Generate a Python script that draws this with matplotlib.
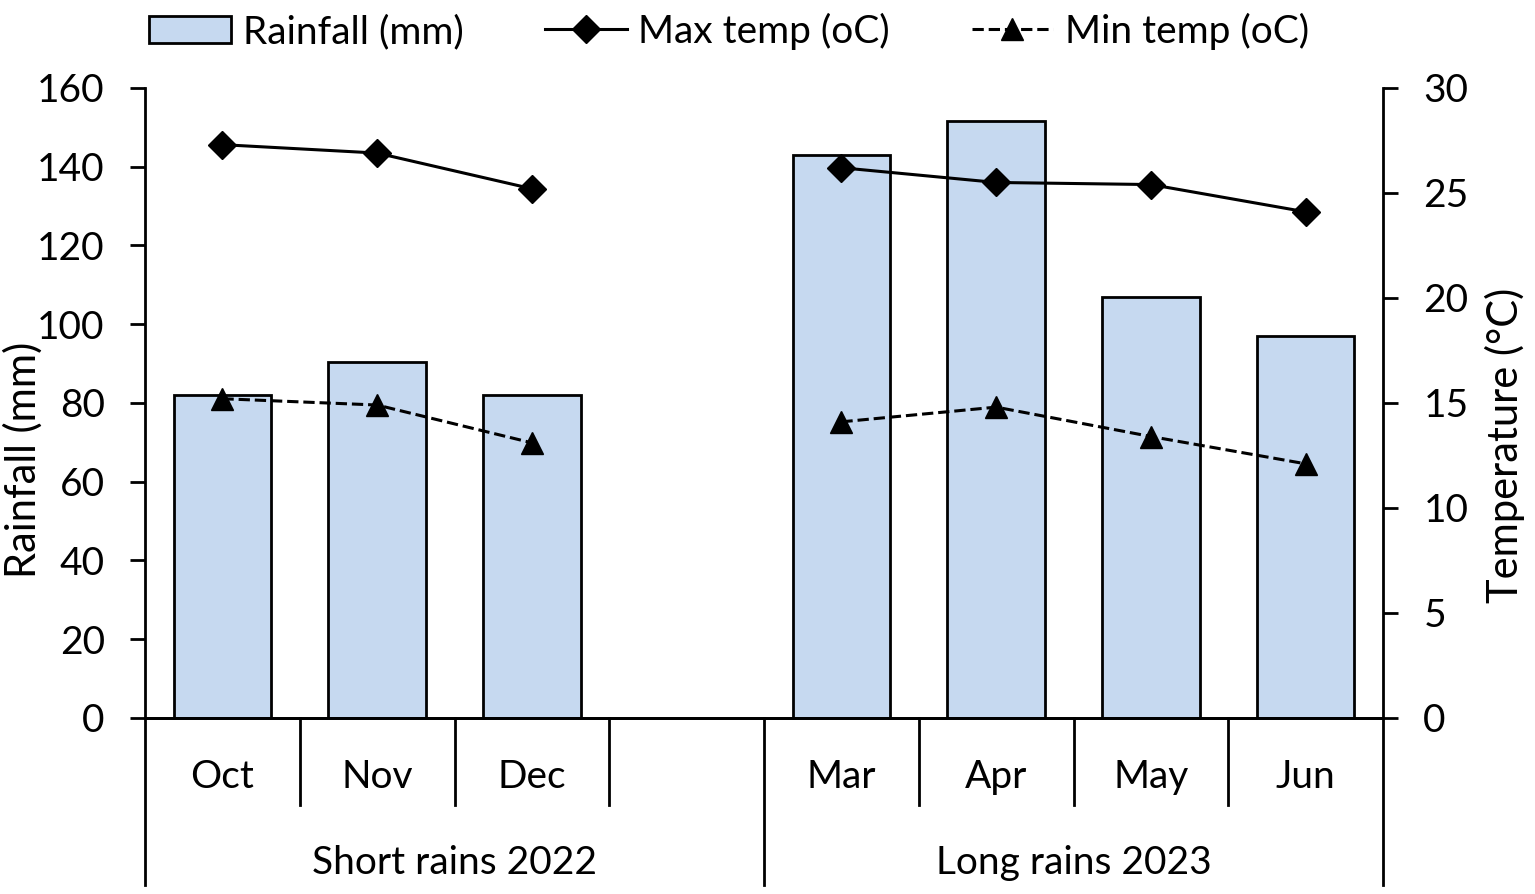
import numpy as np
import matplotlib.pyplot as plt
from matplotlib.transforms import blended_transform_factory

plt.rcParams['font.family'] = ['Lato', 'DejaVu Sans']

months = ['Oct', 'Nov', 'Dec', '', 'Mar', 'Apr', 'May', 'Jun']
seasons = ['Short rains 2022', 'Long rains 2023']
rainfall = [82, 90.5, 82, np.nan, 143, 151.5, 107, 97]
max_temp = [27.3, 26.9, 25.2, np.nan, 26.2, 25.5, 25.4, 24.1]
min_temp = [15.2, 14.9, 13.1, np.nan, 14.1, 14.8, 13.4, 12.1]

fs = 28
x = np.arange(len(months))

fig = plt.figure(figsize=(15.35, 8.94), dpi=100)
ax = fig.add_axes([0.0945, 0.197, 0.8065, 0.7046])
ax2 = ax.twinx()

bars = ax.bar(x, rainfall, width=0.63, color='#C6D9F0', edgecolor='black',
              linewidth=2, label='Rainfall (mm)', zorder=1)
l1, = ax2.plot(x, max_temp, color='black', lw=2.2, marker='D', ms=14,
               label='Max temp (oC)')
l2, = ax2.plot(x, min_temp, color='black', lw=2.2, ls='--', marker='^', ms=16,
               label='Min temp (oC)')

ax.set_xlim(-0.5, len(months) - 0.5)
ax.set_ylim(0, 160)
ax.set_yticks(range(0, 161, 20))
ax2.set_ylim(0, 30)
ax2.set_yticks(range(0, 31, 5))

for a in (ax, ax2):
    for s in a.spines.values():
        s.set_linewidth(2)
    a.spines['top'].set_visible(False)
    a.tick_params(axis='y', labelsize=fs, length=11, width=2, direction='out', pad=18)
ax.spines['right'].set_visible(False)
ax2.spines['left'].set_visible(False)

ax.set_xticks([])
ax.set_ylabel('Rainfall (mm)', fontsize=30, va='center')
ax.yaxis.set_label_coords(-0.0985, 0.41)
ax2.set_ylabel('Temperature (°C)', fontsize=30, va='center')
ax2.yaxis.set_label_coords(1.0986, 0.433)

# category labels and separators under the axis
tr = blended_transform_factory(ax.transData, ax.transAxes)
for i, m in enumerate(months):
    ax.text(i, -0.094, m, transform=tr, ha='center', va='center', fontsize=fs)
for b in np.arange(len(months) + 1) - 0.5:
    bottom = -0.265 if b in (-0.5, 3.5, 7.5) else -0.138
    ax.plot([b, b], [0, bottom], transform=tr, color='black', lw=2, clip_on=False)
ax.text(1.5, -0.23, seasons[0], transform=tr, ha='center', va='center', fontsize=fs)
ax.text(5.5, -0.23, seasons[1], transform=tr, ha='center', va='center', fontsize=fs)

fig.legend([bars, l1, l2], [bars.get_label(), l1.get_label(), l2.get_label()],
           loc='upper center', bbox_to_anchor=(0.475, 1.025), ncol=3, frameon=False,
           fontsize=fs, handlelength=2.1, columnspacing=2.1, handletextpad=0.3)

fig.savefig('out.png', dpi=100)
